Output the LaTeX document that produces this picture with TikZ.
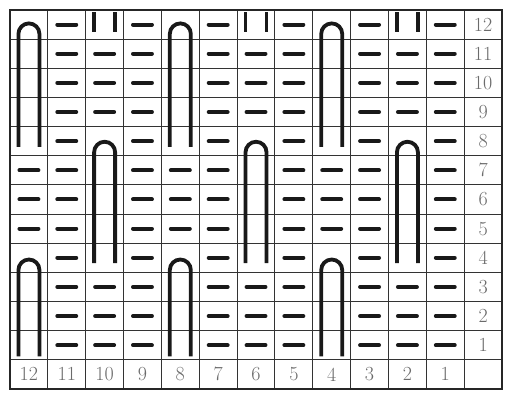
\documentclass[tikz,border=0pt]{standalone}
\begin{document}
\begin{tikzpicture}[x=1pt,y=1pt,
  gridline/.style={draw=black!80, line width=1pt},
  border/.style={draw=black!85, line width=1.5pt},
  dashbar/.style={draw=black!90, line width=4pt, line cap=round},
  loopline/.style={draw=black!90, line width=3.8pt, line cap=butt},
  numlabel/.style={text=black!58, font=\fontsize{20}{20}\selectfont, inner sep=0pt}]
\useasboundingbox[fill=white] (0,0) rectangle (507,396);
\begin{scope}[shift={(10,386)}, x=37.85pt, y={(0pt,-29.15pt)}]
  % grid
  \foreach \k in {1,...,12} {
    \draw[gridline] (\k,0) -- (\k,13);
    \draw[gridline] (0,\k) -- (13,\k);
  }
  \draw[border] (0,0) rectangle (13,13);
  % purl dashes
  \foreach \r/\cl in {12/{11,9,7,5,3,1},
                      11/{11,10,9,7,6,5,3,2,1},
                      10/{11,10,9,7,6,5,3,2,1},
                      9/{11,10,9,7,6,5,3,2,1},
                      8/{11,9,7,5,3,1},
                      7/{12,11,9,8,7,5,4,3,1},
                      6/{12,11,9,8,7,5,4,3,1},
                      5/{12,11,9,8,7,5,4,3,1},
                      4/{11,9,7,5,3,1},
                      3/{11,10,9,7,6,5,3,2,1},
                      2/{11,10,9,7,6,5,3,2,1},
                      1/{11,10,9,7,6,5,3,2,1}}{
    \foreach \c in \cl {
      \draw[dashbar] ({12-\c+0.25},{12-\r+0.5}) -- ({12-\c+0.75},{12-\r+0.5});
    }
  }
  % long loops (rows 12-8), cols 12,8,4
  \foreach \c in {12,8,4} {
    \draw[loopline] ([xshift=-10.5pt]{12-\c+0.5},4.70) -- ([xshift=-10.5pt]{12-\c+0.5},0.82)
      arc[start angle=180,end angle=0,radius=10.5pt] -- ([xshift=10.5pt]{12-\c+0.5},4.70);
  }
  % middle loops (rows 8-4), cols 10,6,2
  \foreach \c in {10,6,2} {
    \draw[loopline] ([xshift=-10.5pt]{12-\c+0.5},8.68) -- ([xshift=-10.5pt]{12-\c+0.5},4.88)
      arc[start angle=180,end angle=0,radius=10.5pt] -- ([xshift=10.5pt]{12-\c+0.5},8.68);
    % bars in row 12
    \draw[loopline] ([xshift=-10.5pt]{12-\c+0.5},0.07) -- ([xshift=-10.5pt]{12-\c+0.5},0.75);
    \draw[loopline] ([xshift=10.5pt]{12-\c+0.5},0.07) -- ([xshift=10.5pt]{12-\c+0.5},0.75);
  }
  % bottom loops (rows 4-1), cols 12,8,4
  \foreach \c in {12,8,4} {
    \draw[loopline] ([xshift=-10.5pt]{12-\c+0.5},11.88) -- ([xshift=-10.5pt]{12-\c+0.5},8.92)
      arc[start angle=180,end angle=0,radius=10.5pt] -- ([xshift=10.5pt]{12-\c+0.5},11.88);
  }
  % row numbers
  \foreach \r in {1,...,12} {
    \node[numlabel] (row\r) at (12.5,{12-\r+0.5}) {\r};
  }
  % column numbers
  \foreach \c in {1,...,12} {
    \node[numlabel] (col\c) at ({12-\c+0.5},12.5) {\c};
  }
\end{scope}
\end{tikzpicture}
\end{document}
